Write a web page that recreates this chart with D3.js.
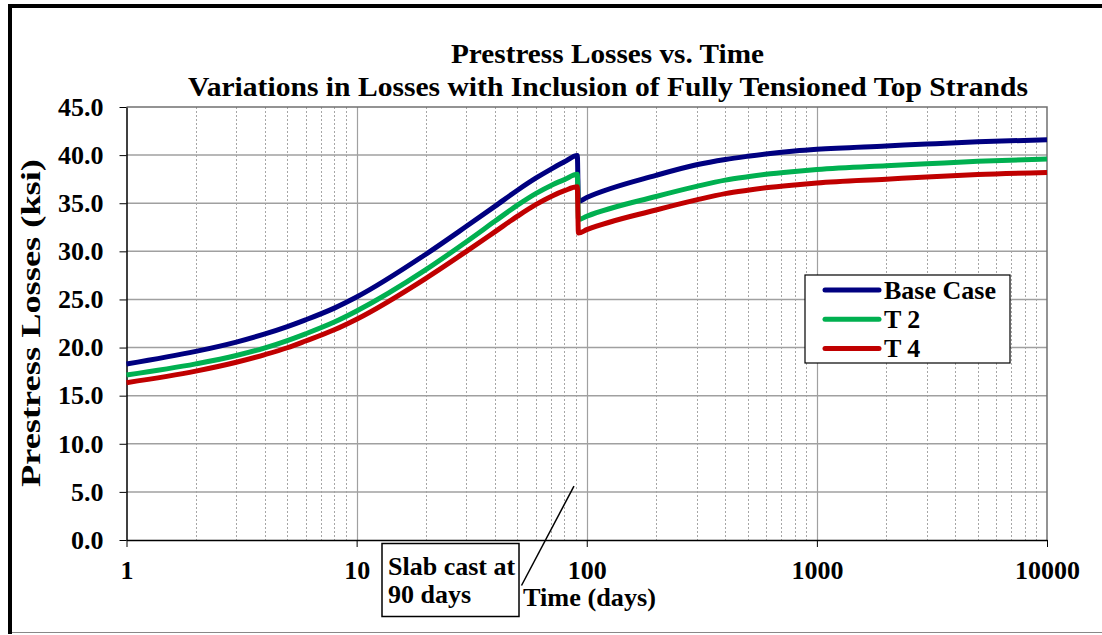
<!DOCTYPE html>
<html>
<head>
<meta charset="utf-8">
<script src="https://cdn.jsdelivr.net/npm/d3@7"></script>
<style>
  body { margin: 0; background: #fff; }
  svg { display: block; font-family: "Liberation Serif", "Times New Roman", serif; font-weight: bold; }
</style>
</head>
<body>
<svg id="chart"></svg>
<script>
// time in days (log axis) and losses in ksi
const days = [1, 2, 3, 4, 5, 6, 8, 10, 20, 30, 40, 50, 60, 70, 80, 91, 92, 100, 200, 300, 400, 500, 600, 800, 1000, 2000, 3000, 5000, 10000];
const baseCase = [18.3, 19.6, 20.57, 21.42, 22.18, 22.88, 24.1, 25.25, 29.7, 32.6, 34.7, 36.35, 37.6, 38.55, 39.3, 39.95,
                  35.2, 35.6, 37.9, 39.0, 39.55, 39.88, 40.12, 40.42, 40.6, 40.95, 41.15, 41.38, 41.6];
const t2 = [17.15, 18.3, 19.17, 19.97, 20.73, 21.43, 22.65, 23.8, 28.1, 31.0, 33.15, 34.8, 36.0, 36.85, 37.45, 38.0,
            33.3, 33.65, 35.7, 36.75, 37.4, 37.75, 38.0, 38.3, 38.5, 38.9, 39.1, 39.35, 39.6];
const t4 = [16.35, 17.55, 18.47, 19.27, 19.98, 20.68, 21.85, 22.95, 27.2, 30.0, 32.05, 33.65, 34.85, 35.7, 36.3, 36.7,
            31.9, 32.25, 34.3, 35.35, 36.0, 36.35, 36.6, 36.9, 37.1, 37.5, 37.73, 37.98, 38.2];

const seriesNames = ["Base Case", "T 2", "T 4"];
const seriesColors = ["#000080", "#00b050", "#c00000"];
const xTicks = [1, 10, 100, 1000, 10000];
const yTicks = [0, 5, 10, 15, 20, 25, 30, 35, 40, 45];
const titleLines = ["Prestress Losses vs. Time", "Variations in Losses with Inclusion of Fully Tensioned Top Strands"];
const noteLines = ["Slab cast at", "90 days"];
const notePoint = [88, 5.6]; // where the callout line points (days, ksi)

const width = 1102, height = 635;
const plotLeft = 126.5, plotRight = 1047, plotTop = 107, plotBottom = 540;

const svg = d3.select('#chart')
  .attr('width', width)
  .attr('height', height);

// frame around the whole chart
svg.append('line').attr('x1', 8).attr('x2', width).attr('y1', 6).attr('y2', 6)
  .attr('stroke', '#000').attr('stroke-width', 4);
svg.append('line').attr('x1', 10).attr('x2', 10).attr('y1', 4).attr('y2', 634)
  .attr('stroke', '#000').attr('stroke-width', 4);
svg.append('line').attr('x1', 12).attr('x2', width).attr('y1', 632.5).attr('y2', 632.5)
  .attr('stroke', '#888').attr('stroke-width', 1);

const x = d3.scaleLog().domain([1, 10000]).range([plotLeft, plotRight]);
const y = d3.scaleLinear().domain([0, 45]).range([plotBottom, plotTop]);

// grid
const grid = svg.append('g');
grid.selectAll('.minor')
  .data(x.ticks().filter(d => !xTicks.includes(d)))
  .join('line')
    .attr('x1', d => Math.round(x(d)) + 0.5).attr('x2', d => Math.round(x(d)) + 0.5)
    .attr('y1', plotTop).attr('y2', plotBottom)
    .attr('stroke', '#a6a6a6').attr('stroke-dasharray', '2,2');
grid.selectAll('.major')
  .data(xTicks.slice(1, -1))
  .join('line')
    .attr('x1', d => Math.round(x(d)) + 0.5).attr('x2', d => Math.round(x(d)) + 0.5)
    .attr('y1', plotTop).attr('y2', plotBottom)
    .attr('stroke', '#a0a0a0').attr('stroke-width', 1.2);
grid.selectAll('.hgrid')
  .data(yTicks.slice(1, -1))
  .join('line')
    .attr('x1', plotLeft).attr('x2', plotRight)
    .attr('y1', d => y(d)).attr('y2', d => y(d))
    .attr('stroke', '#a0a0a0').attr('stroke-width', 1.5);
// top and right edges of plot area
svg.append('path')
  .attr('d', `M${plotLeft},${y(45)}H${plotRight}V${plotBottom}`)
  .attr('fill', 'none').attr('stroke', '#707070').attr('stroke-width', 1.5);

// axes
const yAxis = d3.axisLeft(y)
  .tickValues(yTicks)
  .tickFormat(d3.format('.1f'))
  .tickSize(7).tickSizeOuter(0).tickPadding(16);
const gy = svg.append('g').attr('transform', `translate(${plotLeft},0)`).call(yAxis);
gy.select('.domain').attr('stroke-width', 1.5);
gy.selectAll('text').style('font-size', '26px').style('font-family', 'Liberation Serif').style('font-weight', 'bold').attr('fill', '#000');

const xAxis = d3.axisBottom(x)
  .tickValues(xTicks)
  .tickFormat(d => d)
  .tickSize(7).tickSizeOuter(0).tickPadding(14);
const gx = svg.append('g').attr('transform', `translate(0,${plotBottom})`).call(xAxis);
gx.select('.domain').attr('stroke-width', 1.5);
gx.selectAll('text').style('font-size', '26px').style('font-family', 'Liberation Serif').style('font-weight', 'bold').attr('fill', '#000');

// series lines
const line = d3.line()
  .x((d, i) => x(days[i]))
  .y(d => y(d))
  .curve(d3.curveMonotoneX);
svg.selectAll('.series')
  .data([baseCase, t2, t4])
  .join('path')
    .attr('d', d => line(d))
    .attr('fill', 'none')
    .attr('stroke', (d, i) => seriesColors[i])
    .attr('stroke-width', 5);

// titles
svg.append('text')
  .attr('x', 451).attr('y', 63)
  .attr('textLength', 313).attr('lengthAdjust', 'spacingAndGlyphs')
  .style('font-size', '27px')
  .text(titleLines[0]);
svg.append('text')
  .attr('x', 188).attr('y', 96)
  .attr('textLength', 840).attr('lengthAdjust', 'spacingAndGlyphs')
  .style('font-size', '27px')
  .text(titleLines[1]);

svg.append('text')
  .attr('transform', `translate(40,${plotBottom - 53}) rotate(-90)`)
  .attr('textLength', 328).attr('lengthAdjust', 'spacingAndGlyphs')
  .style('font-size', '27px')
  .text('Prestress Losses (ksi)');
svg.append('text')
  .attr('x', 523).attr('y', 606)
  .attr('textLength', 133).attr('lengthAdjust', 'spacingAndGlyphs')
  .style('font-size', '26px')
  .text('Time (days)');

// legend
const legend = svg.append('g').attr('transform', 'translate(805,275)');
legend.append('rect')
  .attr('width', 205).attr('height', 88)
  .attr('fill', '#fff').attr('stroke', '#000').attr('stroke-width', 1.2);
seriesNames.forEach((name, i) => {
  legend.append('line')
    .attr('x1', 20).attr('x2', 74)
    .attr('y1', 15 + i * 29.2).attr('y2', 15 + i * 29.2)
    .attr('stroke', seriesColors[i]).attr('stroke-width', 5).attr('stroke-linecap', 'round');
  legend.append('text')
    .attr('x', 79).attr('y', 23.5 + i * 29.2)
    .style('font-size', '26px')
    .text(name);
});

// "slab cast" callout
svg.append('rect')
  .attr('x', 382).attr('y', 543.5).attr('width', 137).attr('height', 73)
  .attr('fill', '#fff').attr('stroke', '#000').attr('stroke-width', 1.5);
noteLines.forEach((t, i) => {
  svg.append('text')
    .attr('x', 388).attr('y', 575 + i * 28)
    .style('font-size', '26px')
    .text(t);
});
svg.append('line')
  .attr('x1', 521.5).attr('y1', 585.5)
  .attr('x2', x(notePoint[0])).attr('y2', y(notePoint[1]))
  .attr('stroke', '#000').attr('stroke-width', 1.5);
</script>
</body>
</html>
